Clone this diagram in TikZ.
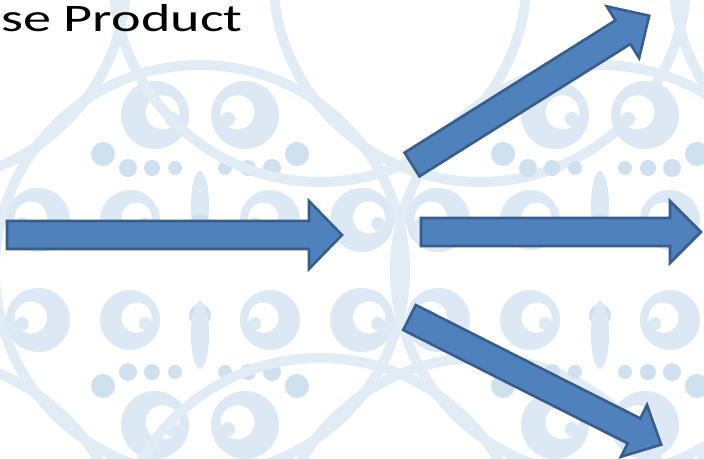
\documentclass[tikz,border=0pt]{standalone}
\usepackage{fontspec}
\setmainfont{Carlito}
\definecolor{arrowfill}{HTML}{4F81BD}
\definecolor{arrowline}{HTML}{385D8A}
\definecolor{tilering}{HTML}{E2ECF5}
\definecolor{tiledot}{HTML}{CFE0EE}
\definecolor{tilescroll}{HTML}{DCE8F3}
\tikzset{
	blockarrow/.style={fill=arrowfill,draw=arrowline,line width=2.6pt,line join=miter},
	ring/.style={draw=tilering,line width=10pt},
	dot/.style={fill=tiledot},
	scroll/.style={fill=tilescroll},
}
% tail centre, angle, length, half shaft, head length, half head
\newcommand{\blockarrow}[6]{%
	\draw[blockarrow,shift={(#1)},rotate=#2] (0,-#4) -- ({#3-#5},-#4) -- ({#3-#5},-#6) -- (#3,0)
		-- ({#3-#5},#6) -- ({#3-#5},#4) -- (0,#4) -- cycle;
}
% scroll at (x,y), radius, side of the curl
\newcommand{\scrollat}[4]{%
	\fill[scroll] (#1,#2) circle (#3);
	\fill[white] ({#1+#4*0.22*#3},{#2-0.08*#3}) circle ({0.5*#3});
	\fill[scroll] ({#1+#4*0.5*#3},{#2+0.12*#3}) circle ({0.21*#3});
}
\begin{document}
\begin{tikzpicture}[x=1pt,y=-1pt]
	\useasboundingbox (0,0) rectangle (704,458);
	\begin{scope}
		\clip (0,0) rectangle (704,458);
		\fill[white] (0,0) rectangle (704,458);
		% background tile, mirrored about y=270
		\foreach \cx in {200,600}
		{
			\draw[ring] (\cx,270) circle (205);
			\foreach \y/\s in {168/1,372/-1}
			{
				\draw[ring] (\cx-280,{270-\s*295}) circle (207);
				\draw[ring] (\cx+280,{270-\s*295}) circle (207);
				\fill[scroll] (\cx,{270-\s*65}) ellipse (9 and 34);
				\foreach \dx/\r/\dy in {25/7/0,48/8/0,72/9/0,97/12/-14}
				{
					\fill[dot] (\cx+\dx,{\y+\s*\dy}) circle (\r);
					\fill[dot] (\cx-\dx,{\y+\s*\dy}) circle (\r);
				}
				\scrollat{\cx-45}{270-\s*155}{34}{1}
				\scrollat{\cx+45}{270-\s*155}{34}{-1}
				\scrollat{\cx-70}{270+\s*50}{30}{1}
				\scrollat{\cx+70}{270+\s*50}{30}{-1}
				\scrollat{\cx-162}{270+\s*50}{32}{-1}
				\scrollat{\cx+162}{270+\s*50}{32}{1}
				\fill[dot] (\cx,{270+\s*45}) circle (11);
			}
		}
	\end{scope}
	\node[anchor=base west,inner sep=0,xscale=1.44,font=\fontsize{39}{45}\selectfont] (title) at (1,31) {se Product};
	\blockarrow{7,235}{0}{335}{14}{33}{34}
	\blockarrow{421,232}{0}{280}{14}{31}{31}
	\blockarrow{412,164.5}{32.1}{280}{14}{31}{30.5}
	\blockarrow{409.5,317.5}{-26.8}{282}{14}{30.5}{29}
\end{tikzpicture}
\end{document}
